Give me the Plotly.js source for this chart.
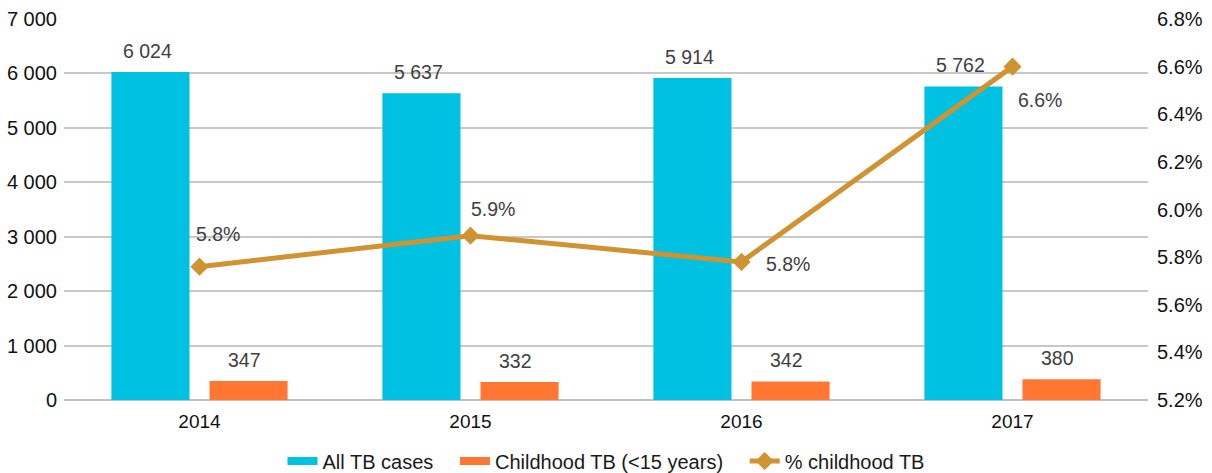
<!DOCTYPE html>
<html>
<head>
<meta charset="utf-8">
<script src="https://cdn.plot.ly/plotly-3.0.1.min.js"></script>
<style>html,body{margin:0;padding:0;background:#fff}#chart{width:1212px;height:473px}</style>
</head>
<body>
<div id="chart"></div>
<script>
const years = ['2014', '2015', '2016', '2017'];
const allTB = [6024, 5637, 5914, 5762];
const childTB = [347, 332, 342, 380];
const pctChild = [5.76, 5.89, 5.78, 6.60];
const pctLabels = ['5.8%', '5.9%', '5.8%', '6.6%'];
const seriesNames = ['All TB cases', 'Childhood TB (<15 years)', '% childhood TB'];

const cyan = '#00C1E2';
const orange = '#FF7733';
const gold = '#CF9331';
const FONT = '"Liberation Sans", Arial, Helvetica, sans-serif';
const PAD = '\u00a0\u00a0\u00a0';

const traces = [
  {type: 'bar', name: seriesNames[0], x: years, y: allTB, marker: {color: cyan}, hoverinfo: 'none', showlegend: false},
  {type: 'bar', name: seriesNames[1], x: years, y: childTB, marker: {color: orange}, hoverinfo: 'none', showlegend: false},
  {type: 'scatter', mode: 'lines+markers', name: seriesNames[2], x: years, y: pctChild, yaxis: 'y2',
   line: {color: gold, width: 5}, marker: {symbol: 'diamond', size: 14, color: gold}, hoverinfo: 'none', legendrank: 3},
  // legend swatches for the bar series (wide flat rectangles as in the reference)
  {type: 'scatter', mode: 'lines', name: seriesNames[0] + PAD, x: [null], y: [null], line: {color: cyan, width: 8}, legendrank: 1, hoverinfo: 'none'},
  {type: 'scatter', mode: 'lines', name: seriesNames[1] + PAD, x: [null], y: [null], line: {color: orange, width: 8}, legendrank: 2, hoverinfo: 'none'}
];

const annotations = [];
const fmt = v => String(v).replace(/\B(?=(\d{3})+(?!\d))/g, ' ');
const labFont = {family: FONT, size: 19.5, color: '#404040'};
years.forEach((yr, i) => {
  annotations.push({x: i, y: allTB[i], xref: 'x', yref: 'y', text: fmt(allTB[i]), showarrow: false,
    xshift: -52, yshift: 8, yanchor: 'bottom', font: labFont});
  annotations.push({x: i, y: childTB[i], xref: 'x', yref: 'y', text: fmt(childTB[i]), showarrow: false,
    xshift: 45, yshift: 8, yanchor: 'bottom', font: labFont});
});
const pShift = [[18, 33], [22, 27], [46, -2], [27, -33]];
years.forEach((yr, i) => {
  annotations.push({x: i, y: pctChild[i], xref: 'x', yref: 'y2', text: pctLabels[i], showarrow: false,
    xshift: pShift[i][0], yshift: pShift[i][1], font: labFont});
});

const layout = {
  width: 1212, height: 473,
  margin: {l: 64, r: 64, t: 19, b: 73, autoexpand: false},
  paper_bgcolor: '#fff', plot_bgcolor: '#fff',
  separators: '. ',
  font: {family: FONT, size: 19.5, color: '#1a1a1a'},
  barmode: 'group', bargap: 0.276, bargroupgap: 0.204,
  showlegend: true,
  legend: {orientation: 'h', x: 0.5, xanchor: 'center', yref: 'container', y: 1 - 461 / 473, yanchor: 'middle',
    font: {family: FONT, size: 20, color: '#1a1a1a'}, traceorder: 'normal', itemwidth: 30},
  xaxis: {type: 'category', range: [-0.5, 3.5], showgrid: false, zeroline: false, showline: false, ticks: '',
    tickfont: {family: FONT, size: 19, color: '#111'}, ticklabelstandoff: 8},
  yaxis: {range: [0, 7000], dtick: 1000, tickformat: ',d', gridcolor: '#C8C8C8', gridwidth: 2,
    zeroline: true, zerolinecolor: '#C0C0C0', zerolinewidth: 2, showline: false, ticks: '',
    tickfont: {family: FONT, size: 20, color: '#111'}, ticklabelstandoff: 6},
  yaxis2: {overlaying: 'y', side: 'right', range: [5.2, 6.8], dtick: 0.2, tickformat: '.1f', ticksuffix: '%',
    showgrid: false, zeroline: false, showline: false, ticks: '',
    tickfont: {family: FONT, size: 20, color: '#111'}, ticklabelstandoff: 8},
  annotations: annotations
};

Plotly.newPlot('chart', traces, layout, {displayModeBar: false, staticPlot: true});
</script>
</body>
</html>
